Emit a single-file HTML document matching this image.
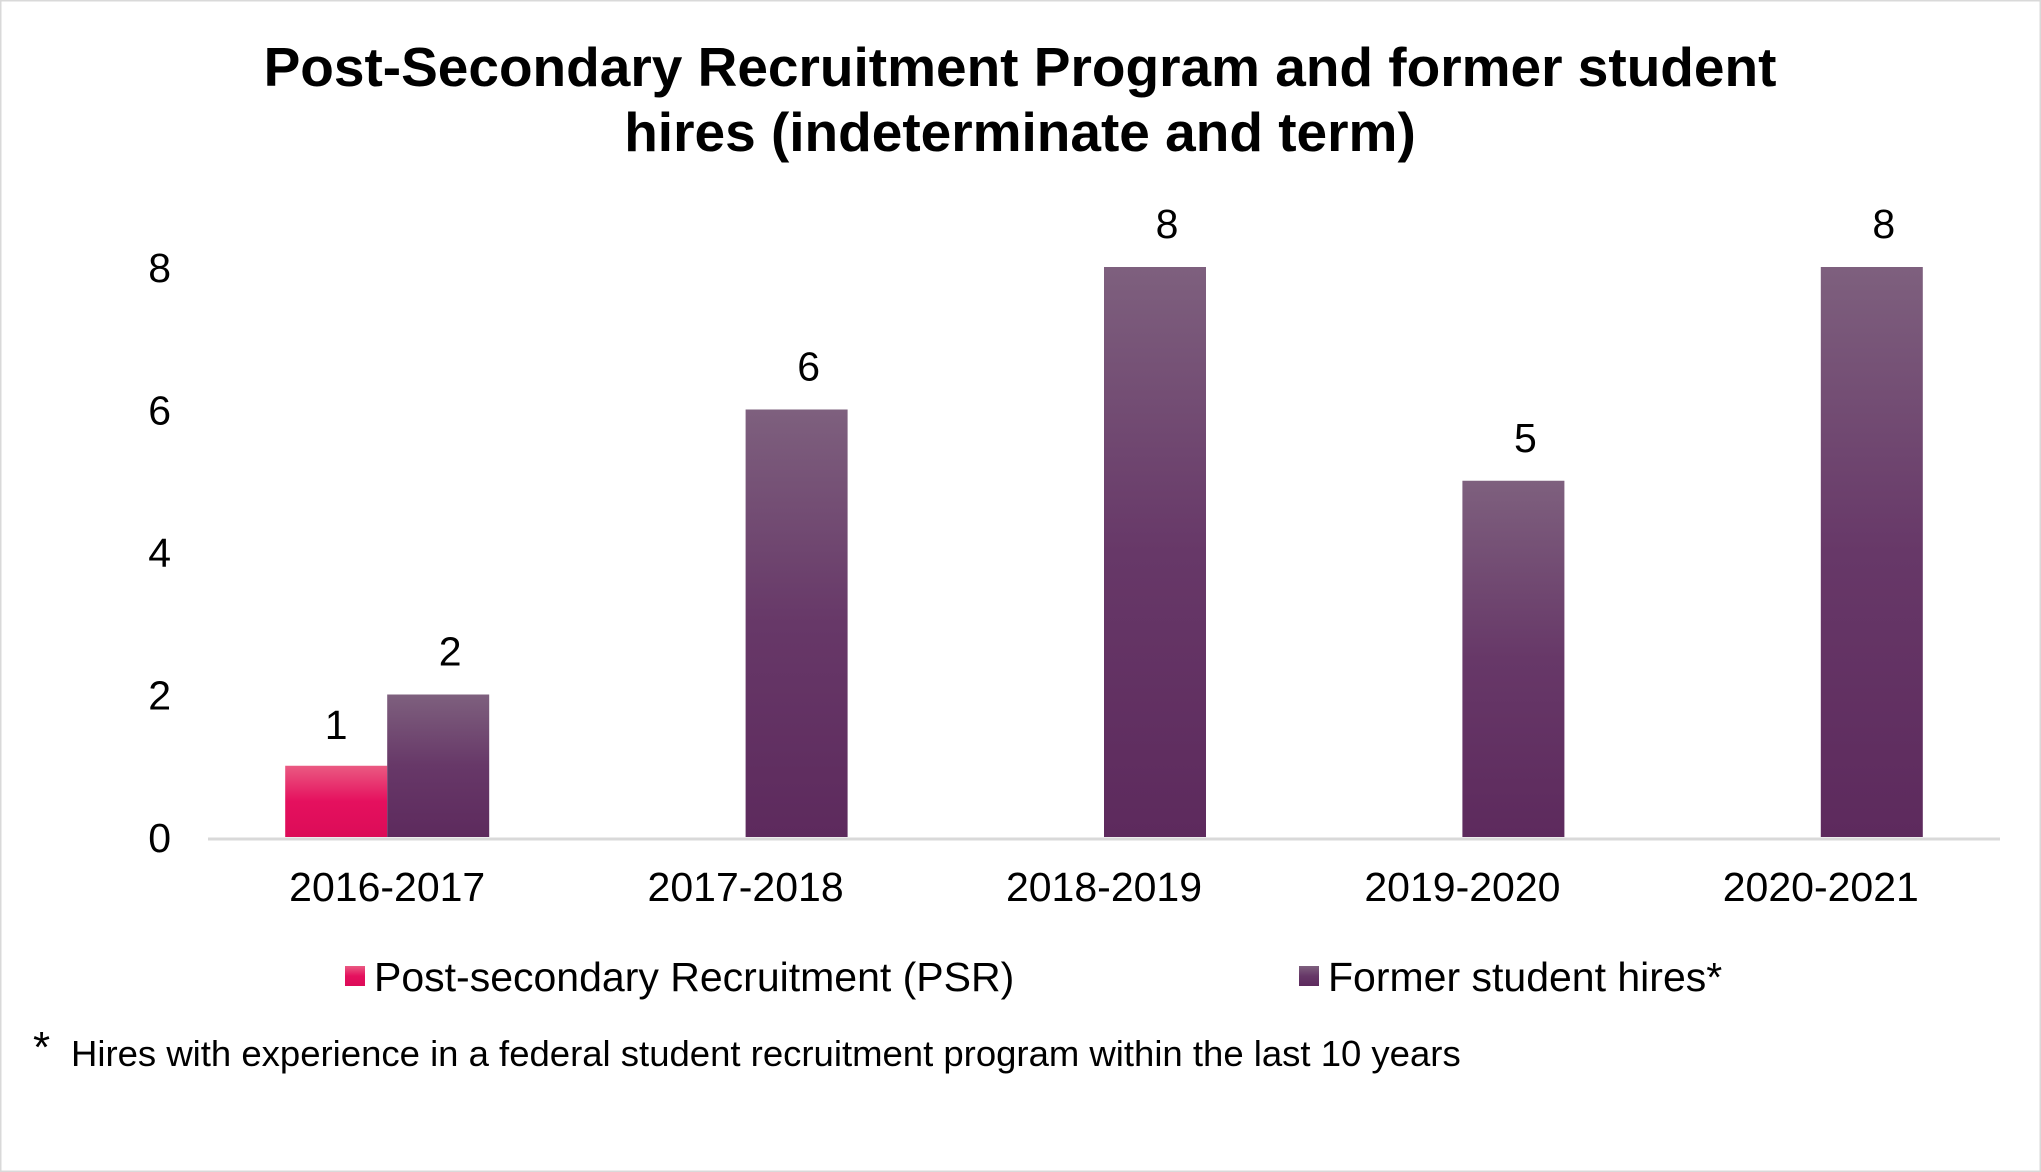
<!DOCTYPE html>
<html><head><meta charset="utf-8"><style>
html,body{margin:0;padding:0;background:#fff;}
svg{display:block;font-family:"Liberation Sans",Arial,sans-serif;}
</style></head><body>
<svg id="chart" width="2041" height="1172" viewBox="0 0 2041 1172" xmlns="http://www.w3.org/2000/svg">
<defs>
<linearGradient id="gF" x1="0" y1="0" x2="0" y2="1"><stop offset="0" stop-color="#7e607e"/><stop offset="0.5" stop-color="#673868"/><stop offset="1" stop-color="#5d2a5d"/></linearGradient>
<linearGradient id="gP" x1="0" y1="0" x2="0" y2="1"><stop offset="0" stop-color="#ea5a82"/><stop offset="0.5" stop-color="#e5105e"/><stop offset="1" stop-color="#dc0c58"/></linearGradient>
</defs>
<rect x="0.5" y="0.5" width="2040" height="1171" fill="#fff" stroke="#d9d9d9" stroke-width="2"/>
<text x="1020" y="86" text-anchor="middle" font-size="55" font-weight="bold" fill="#000">Post-Secondary Recruitment Program and former student</text>
<text x="1020" y="151" text-anchor="middle" font-size="55" font-weight="bold" fill="#000">hires (indeterminate and term)</text>
<g id="plot"></g>
<rect x="345" y="966" width="20" height="20" fill="url(#gP)"/>
<text x="374" y="991" font-size="41" fill="#000">Post-secondary Recruitment (PSR)</text>
<rect x="1299" y="966" width="20" height="20" fill="url(#gF)"/>
<text x="1328" y="991" font-size="41" fill="#000">Former student hires*</text>
<text x="33" y="1062" font-size="44" fill="#000">*</text>
<text x="71" y="1066" font-size="36.5" fill="#000">Hires with experience in a federal student recruitment program within the last 10 years</text>
</svg>
<script>
const categories = ["2016-2017","2017-2018","2018-2019","2019-2020","2020-2021"];
const psrValues = [1, null, null, null, null];
const formerValues = [2, 6, 8, 5, 8];
const yTicks = [0, 2, 4, 6, 8];

const NS = "http://www.w3.org/2000/svg";
const plot = document.getElementById("plot");
const x0 = 208, x1 = 2000, y0 = 837, unit = 71.25, bw = 102;
const step = (x1 - x0) / categories.length;
const xc = i => x0 + step * (i + 0.5);
const y = v => y0 - v * unit;
function mk(tag, attrs) { const e = document.createElementNS(NS, tag); for (const k in attrs) e.setAttribute(k, attrs[k]); plot.appendChild(e); return e; }

yTicks.forEach(t => {
  const e = mk("text", {x: 171, y: y(t) + 15, "text-anchor": "end", "font-size": 41, fill: "#000"});
  e.textContent = t;
  
  
});
const ax = mk("line", {x1: x0, x2: x1, y1: y0 + 2, y2: y0 + 2, stroke: "#d9d9d9", "stroke-width": 3});



categories.forEach((c, i) => {
  const cx = xc(i);
  const lab = mk("text", {x: cx, y: y0 + 64, "text-anchor": "middle", "font-size": 41, fill: "#000"});
  lab.textContent = c;
  
  
  const p = psrValues[i];
  if (p != null) {
    const r = mk("rect", {x: cx - bw, y: y(p), width: bw, height: y0 - y(p), fill: "url(#gP)"});
    
    
    const t = mk("text", {x: cx - bw / 2, y: y(p) - 27, "text-anchor": "middle", "font-size": 41, fill: "#000"});
    t.textContent = p;
    
    
  }
  const f = formerValues[i];
  if (f != null) {
    const r = mk("rect", {x: cx, y: y(f), width: bw, height: y0 - y(f), fill: "url(#gF)"});
    
    
    const t = mk("text", {x: cx + bw / 2 + 12, y: y(f) - 29, "text-anchor": "middle", "font-size": 41, fill: "#000"});
    t.textContent = f;
    
    
  }
});
</script>
</body></html>
